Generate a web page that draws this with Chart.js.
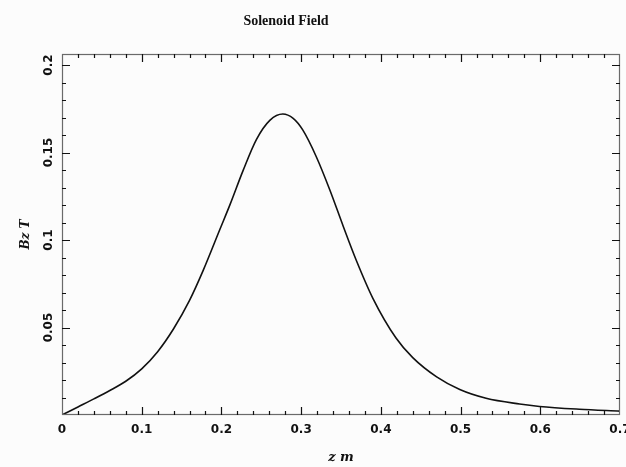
<!DOCTYPE html>
<html>
<head>
<meta charset="utf-8">
<title>Solenoid Field</title>
<script src="https://cdn.jsdelivr.net/npm/chart.js@4.4.1/dist/chart.umd.min.js"></script>
<style>
  html, body { margin: 0; padding: 0; background: #fcfcfc; }
</style>
</head>
<body>
<canvas id="fieldChart" width="626" height="467"></canvas>
<script>
// on-axis field of the solenoid: z in metres, Bz in tesla
const zPos = [0, 0.020, 0.040, 0.060, 0.080, 0.100, 0.120, 0.140, 0.160, 0.177,
              0.198, 0.211, 0.227, 0.244, 0.261, 0.277, 0.290, 0.302, 0.319, 0.336,
              0.353, 0.369, 0.390, 0.419, 0.440, 0.470, 0.499, 0.532, 0.574, 0.599,
              0.649, 0.700];
const bzField = [0, 0.0046, 0.0092, 0.0140, 0.0193, 0.0264, 0.0362, 0.0493, 0.0655, 0.0825,
                 0.1060, 0.1205, 0.1395, 0.1575, 0.1685, 0.1720, 0.1695, 0.1629, 0.1476, 0.1286,
                 0.1076, 0.0886, 0.0667, 0.0440, 0.0328, 0.0218, 0.0146, 0.0096, 0.0063, 0.0049,
                 0.0033, 0.0022];

// labelled (major) ticks
const xTicks = [0, 0.1, 0.2, 0.3, 0.4, 0.5, 0.6, 0.7];
const yTicks = [0.05, 0.1, 0.15, 0.2];

const X_MAX = 0.7;
const Y_MAX = 0.2063;

const fmt = v => String(Number(v.toFixed(3)));

// box, inward ticks on all four sides, page title
const frameTicks = {
    id: 'frameTicks',
    beforeDraw(chart) {
        const ctx = chart.ctx;
        ctx.save();
        ctx.fillStyle = '#fcfcfc';
        ctx.fillRect(0, 0, chart.width, chart.height);
        ctx.restore();
    },
    afterDraw(chart) {
        const { ctx, chartArea: a, scales: { x, y } } = chart;
        ctx.save();

        // frame
        ctx.strokeStyle = '#6a6a6a';
        ctx.lineWidth = 1.2;
        ctx.strokeRect(a.left + 0.5, a.top + 0.5, a.right - a.left - 1, a.bottom - a.top - 1);

        ctx.strokeStyle = '#111';
        ctx.lineWidth = 1.2;
        ctx.beginPath();
        // x ticks: minor every 0.02, major every 0.1
        for (let i = 1; i * 0.02 < X_MAX - 1e-6; i++) {
            const px = Math.round(x.getPixelForValue(i * 0.02)) + 0.5;
            const len = (i % 5 === 0) ? 8 : 4;
            ctx.moveTo(px, a.bottom); ctx.lineTo(px, a.bottom - len);
            ctx.moveTo(px, a.top); ctx.lineTo(px, a.top + len);
        }
        // y ticks: minor every 0.01, major every 0.05
        for (let i = 1; i * 0.01 < Y_MAX; i++) {
            const py = Math.round(y.getPixelForValue(i * 0.01)) + 0.5;
            const len = (i % 5 === 0) ? 8 : 4;
            ctx.moveTo(a.left, py); ctx.lineTo(a.left + len, py);
            ctx.moveTo(a.right, py); ctx.lineTo(a.right - len, py);
        }
        ctx.stroke();

        // title
        ctx.fillStyle = '#111';
        ctx.font = 'bold 14px "Liberation Serif"';
        ctx.textAlign = 'center';
        ctx.textBaseline = 'middle';
        ctx.fillText('Solenoid Field', 286, 21);
        ctx.restore();
    }
};

document.addEventListener('DOMContentLoaded', function() {
    const ctx = document.getElementById('fieldChart');

    new Chart(ctx, {
        type: 'line',
        data: {
            datasets: [{
                label: 'Bz',
                data: zPos.map((z, i) => ({ x: z, y: bzField[i] })),
                borderColor: '#111',
                borderWidth: 1.6,
                pointRadius: 0,
                fill: false,
                cubicInterpolationMode: 'monotone'
            }]
        },
        options: {
            responsive: false,
            animation: false,
            layout: {
                autoPadding: false,
                padding: { left: 0, top: 54, right: 6, bottom: 0 }
            },
            plugins: {
                legend: { display: false },
                tooltip: { enabled: false }
            },
            scales: {
                x: {
                    type: 'linear',
                    min: 0,
                    max: X_MAX,
                    afterBuildTicks: s => { s.ticks = xTicks.map(v => ({ value: v })); },
                    // end labels may run past the box; don't let them shrink it
                    afterFit: s => { s.height = 52; s.paddingLeft = 0; s.paddingRight = 0; },
                    grid: { display: false, drawTicks: false },
                    border: { display: false },
                    ticks: {
                        maxRotation: 0,
                        padding: 8,
                        color: '#111',
                        font: { family: '"DejaVu Sans"', size: 12, weight: 'bold' },
                        callback: v => fmt(v)
                    },
                    title: {
                        display: true,
                        text: 'z m',
                        color: '#111',
                        padding: { top: 0, bottom: 2 },
                        font: { family: '"DejaVu Serif"', size: 13, style: 'italic', weight: 'bold' }
                    }
                },
                y: {
                    min: 0,
                    max: Y_MAX,
                    afterBuildTicks: s => { s.ticks = yTicks.map(v => ({ value: v })); },
                    afterFit: s => { s.width = 62; s.paddingTop = 0; s.paddingBottom = 0; },
                    grid: { display: false, drawTicks: false },
                    border: { display: false },
                    ticks: {
                        minRotation: 90,
                        maxRotation: 90,
                        crossAlign: 'center',
                        padding: -2,
                        color: '#111',
                        font: { family: '"DejaVu Sans"', size: 12, weight: 'bold' },
                        callback: v => fmt(v)
                    },
                    title: {
                        display: true,
                        text: 'Bz T',
                        color: '#111',
                        padding: { top: 19, bottom: 0 },
                        font: { family: '"DejaVu Serif"', size: 12, style: 'italic', weight: 'bold' }
                    }
                }
            }
        },
        plugins: [frameTicks]
    });
});
</script>
</body>
</html>
